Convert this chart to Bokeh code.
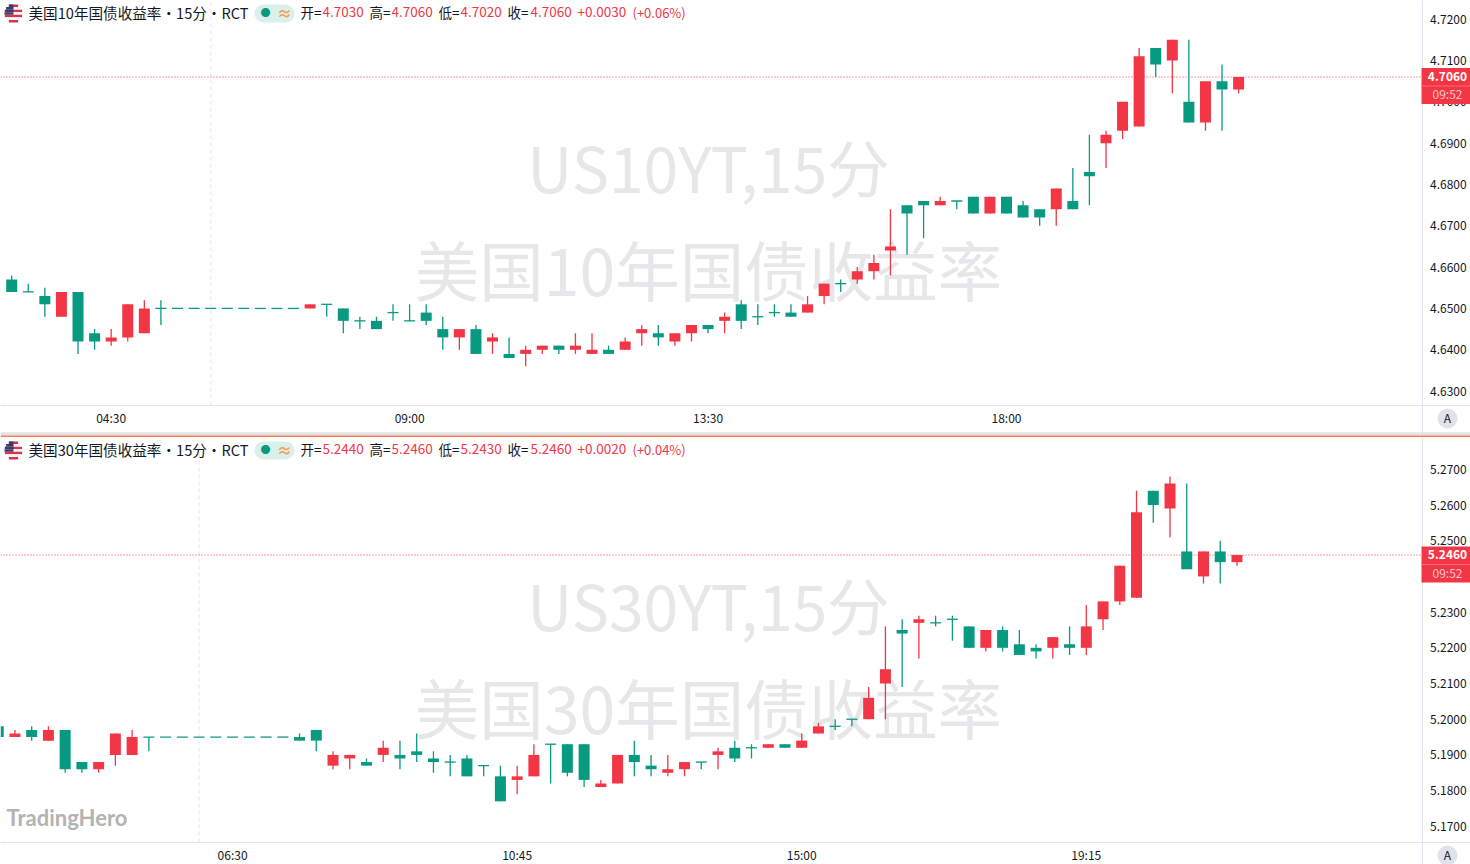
import math

from bokeh.embed import file_html
from bokeh.resources import INLINE
from bokeh.layouts import column
from bokeh.models import (BoxAnnotation, ColumnDataSource, FixedTicker, Label,
                          NumeralTickFormatter, Range1d, Span)
from bokeh.plotting import figure

GREEN = "#089981"
RED = "#F23645"
AXIS = "#e0e3eb"
INK = "#131722"
WM = "#e7e7ea"
CJK = "Noto Sans CJK SC"

OPEN_10 = [4.657,4.654,4.653,4.648,4.654,4.644,4.642,4.643,4.644,4.650,
           4.650,4.650,4.650,4.650,4.650,4.650,4.650,4.650,4.650,4.651,
           4.650,4.647,4.647,4.649,4.647,4.649,4.645,4.643,4.645,4.642,
           4.639,4.639,4.640,4.641,4.640,4.639,4.640,4.640,4.644,4.644,
           4.642,4.644,4.646,4.647,4.651,4.648,4.649,4.649,4.649,4.653,
           4.656,4.657,4.659,4.664,4.675,4.676,4.675,4.676,4.677,4.673,
           4.677,4.675,4.674,4.674,4.676,4.683,4.690,4.693,4.694,4.713,
           4.710,4.700,4.695,4.705,4.703]
HIGH_10 = [4.658,4.656,4.655,4.654,4.654,4.645,4.645,4.651,4.652,4.652,
           4.650,4.650,4.650,4.650,4.650,4.650,4.650,4.650,4.651,4.651,
           4.650,4.648,4.648,4.651,4.651,4.651,4.648,4.645,4.646,4.644,
           4.643,4.641,4.641,4.641,4.644,4.644,4.641,4.643,4.646,4.646,
           4.644,4.646,4.646,4.649,4.652,4.651,4.651,4.651,4.653,4.656,
           4.657,4.660,4.663,4.674,4.675,4.676,4.677,4.676,4.677,4.677,
           4.677,4.676,4.674,4.679,4.684,4.692,4.693,4.700,4.713,4.713,
           4.715,4.715,4.705,4.709,4.706]
LOW_10 = [4.654,4.654,4.648,4.648,4.639,4.640,4.641,4.642,4.644,4.646,
          4.650,4.650,4.650,4.650,4.650,4.650,4.650,4.650,4.650,4.648,
          4.644,4.645,4.645,4.647,4.647,4.646,4.640,4.640,4.639,4.639,
          4.638,4.636,4.639,4.639,4.639,4.639,4.639,4.640,4.641,4.641,
          4.641,4.642,4.644,4.644,4.645,4.646,4.648,4.648,4.649,4.651,
          4.654,4.656,4.657,4.658,4.663,4.667,4.675,4.674,4.673,4.673,
          4.673,4.672,4.670,4.670,4.674,4.675,4.684,4.691,4.694,4.706,
          4.702,4.695,4.693,4.693,4.702]
CLOSE_10 = [4.654,4.654,4.651,4.654,4.642,4.642,4.643,4.651,4.650,4.650,
            4.650,4.650,4.650,4.650,4.650,4.650,4.650,4.650,4.651,4.651,
            4.647,4.647,4.645,4.649,4.647,4.647,4.643,4.645,4.639,4.643,
            4.638,4.640,4.641,4.640,4.641,4.640,4.639,4.642,4.645,4.643,
            4.644,4.646,4.645,4.648,4.647,4.648,4.649,4.648,4.651,4.656,
            4.656,4.659,4.661,4.665,4.673,4.675,4.676,4.676,4.673,4.677,
            4.673,4.672,4.672,4.679,4.674,4.682,4.692,4.700,4.711,4.709,
            4.715,4.695,4.705,4.703,4.706]

OPEN_30 = [5.198,5.195,5.197,5.194,5.197,5.188,5.186,5.190,5.190,5.195,
           5.195,5.195,5.195,5.195,5.195,5.195,5.195,5.195,5.195,5.197,
           5.187,5.189,5.188,5.190,5.190,5.191,5.189,5.188,5.189,5.187,
           5.184,5.183,5.184,5.193,5.193,5.193,5.181,5.182,5.190,5.187,
           5.185,5.186,5.188,5.190,5.192,5.192,5.192,5.193,5.192,5.196,
           5.198,5.200,5.200,5.210,5.225,5.227,5.227,5.228,5.226,5.220,
           5.225,5.221,5.220,5.220,5.221,5.220,5.228,5.233,5.234,5.264,
           5.259,5.247,5.240,5.247,5.244]
HIGH_30 = [5.198,5.197,5.198,5.198,5.197,5.188,5.188,5.196,5.197,5.195,
           5.195,5.195,5.195,5.195,5.195,5.195,5.195,5.195,5.196,5.197,
           5.191,5.190,5.189,5.194,5.194,5.196,5.191,5.190,5.190,5.187,
           5.187,5.187,5.193,5.193,5.193,5.193,5.183,5.190,5.194,5.190,
           5.190,5.188,5.188,5.192,5.194,5.193,5.193,5.193,5.196,5.199,
           5.200,5.200,5.209,5.226,5.228,5.229,5.229,5.229,5.226,5.225,
           5.226,5.225,5.221,5.223,5.226,5.232,5.233,5.243,5.264,5.264,
           5.268,5.266,5.247,5.250,5.246]
LOW_30 = [5.195,5.195,5.194,5.194,5.185,5.185,5.185,5.187,5.190,5.191,
          5.195,5.195,5.195,5.195,5.195,5.195,5.195,5.195,5.194,5.191,
          5.186,5.186,5.187,5.188,5.186,5.188,5.185,5.184,5.184,5.184,
          5.177,5.179,5.184,5.182,5.184,5.181,5.181,5.182,5.184,5.184,
          5.184,5.184,5.186,5.186,5.188,5.189,5.192,5.192,5.192,5.196,
          5.197,5.198,5.200,5.200,5.209,5.217,5.226,5.222,5.220,5.219,
          5.219,5.218,5.217,5.217,5.218,5.218,5.225,5.232,5.234,5.255,
          5.251,5.242,5.238,5.238,5.243]
CLOSE_30 = [5.195,5.196,5.195,5.197,5.186,5.186,5.188,5.196,5.195,5.195,
            5.195,5.195,5.195,5.195,5.195,5.195,5.195,5.195,5.194,5.194,
            5.190,5.190,5.187,5.192,5.189,5.190,5.188,5.188,5.184,5.187,
            5.177,5.184,5.190,5.193,5.185,5.183,5.182,5.190,5.188,5.186,
            5.186,5.188,5.188,5.191,5.189,5.192,5.193,5.192,5.194,5.198,
            5.198,5.200,5.206,5.214,5.224,5.228,5.227,5.228,5.220,5.225,
            5.220,5.218,5.219,5.223,5.220,5.226,5.233,5.243,5.258,5.260,
            5.266,5.242,5.247,5.244,5.246]

TICKS_10 = [4.72,4.71,4.70,4.69,4.68,4.67,4.66,4.65,4.64,4.63]
TICKS_30 = [5.27,5.26,5.25,5.24,5.23,5.22,5.21,5.20,5.19,5.18,5.17]
TIME_10 = {6: "04:30", 24: "09:00", 42: "13:30", 60: "18:00"}
TIME_30 = {14: "06:30", 31: "10:45", 48: "15:00", 65: "19:15"}
SESSION_BAR = 12


def pane(op, hi, lo, cl, ticks, times, top_py, bottom_py, x0_px, bar_px, ref_price, ref_py,
         unit_px, strip_py, wm1, wm2, wm_py1, wm_py2, title, quote, change, countdown, tag_py, hy):
    # bar index / price <-> pixel of the page
    to_i = lambda px: (px - x0_px) / bar_px
    to_p = lambda py: ref_price + (ref_py - py) / unit_px
    sx = lambda x: x
    sy = lambda y: bottom_py - y
    p = figure(width=1470, height=bottom_py - top_py, output_backend="svg", toolbar_location=None,
               x_range=Range1d(to_i(0), to_i(1470)),
               y_range=Range1d(to_p(bottom_py), to_p(top_py)), y_axis_location="right",
               min_border_left=0, min_border_top=0, min_border_right=0, min_border_bottom=0,
               outline_line_color=None, background_fill_color="white",
               border_fill_color="white")
    p.grid.visible = False
    last = cl[-1]
    ax = p.yaxis[0]
    ax.fixed_location = to_i(1421.5)
    ax.ticker = FixedTicker(ticks=ticks)
    ax.formatter = NumeralTickFormatter(format="0.0000")
    ax.major_tick_line_color = None
    ax.major_tick_out = 0
    ax.major_tick_in = 0
    ax.minor_tick_line_color = None
    ax.axis_line_color = AXIS
    ax.major_label_text_font = CJK
    ax.major_label_text_font_size = "12px"
    ax.major_label_text_color = INK
    ax.major_label_standoff = 8
    bx = p.xaxis[0]
    bx.fixed_location = to_p(strip_py)
    bx.ticker = FixedTicker(ticks=list(times))
    bx.major_label_overrides = times
    bx.major_tick_line_color = None
    bx.major_tick_out = 0
    bx.major_tick_in = 0
    bx.minor_tick_line_color = None
    bx.axis_line_color = AXIS
    bx.major_label_text_font = CJK
    bx.major_label_text_font_size = "12px"
    bx.major_label_text_color = INK
    bx.major_label_standoff = 3

    # watermark under the candles
    for txt, py, size in ((wm1, wm_py1, "62.5px"), (wm2, wm_py2, "64.5px")):
        p.add_layout(Label(x=708, y=to_p(py), y_units="data", x_units="screen", text=txt,
                           text_font=CJK, text_font_size=size, text_color=WM,
                           text_align="center", text_baseline="middle", level="underlay"))

    p.segment([SESSION_BAR], [to_p(strip_py)], [SESSION_BAR], [to_p(top_py)], line_color="#eceef3",
              line_width=1.5, line_dash="4 3", level="underlay")
    p.add_layout(Span(location=last, dimension="width", line_color=RED,
                      line_width=1, line_dash="1 2", level="underlay"))

    idx = list(range(len(op)))
    colors = [RED if c > o else GREEN for o, c in zip(op, cl)]
    body = ColumnDataSource(dict(x=idx, o=op, h=hi, l=lo, c=cl, color=colors))
    p.segment("x", "l", "x", "h", source=body, line_color="color", line_width=1.3)
    w = 11 / bar_px
    p.vbar("x", width=w, top="o", bottom="c", source=body, fill_color="color",
           line_color=None)
    flat = [i for i in idx if op[i] == cl[i]]
    p.segment([i - w / 2 for i in flat], [op[i] for i in flat],
              [i + w / 2 for i in flat], [op[i] for i in flat],
              line_color=[colors[i] for i in flat], line_width=1.3)

    def text(x, s, color=INK, size="14px", align="left", weight="normal", py=hy - 1.5, font=CJK):
        p.add_layout(Label(x=sx(x), y=sy(py), x_units="screen", y_units="screen", text=s,
                           text_font=font, text_font_size=size, text_color=color,
                           text_align=align, text_baseline="middle",
                           text_font_style=weight, level="overlay"))

    def box(l, r, t, b, color, radius=0):
        p.add_layout(BoxAnnotation(left=sx(l), right=sx(r), top=sy(t), bottom=sy(b),
                                   left_units="screen", right_units="screen",
                                   top_units="screen", bottom_units="screen",
                                   fill_color=color, fill_alpha=1, line_color=None,
                                   border_radius=radius, level="overlay"))
    # round flag built of chords
    rows = 7
    for k in range(rows):
        d = -9 + (k + 0.5) * 18 / rows
        half = math.sqrt(max(81 - d * d, 0))
        c = "#d8344a" if k % 2 == 0 else "#f6f6f8"
        box(13 - half, 13 + half, hy + d - 18 / rows / 2, hy + d + 18 / rows / 2, c)
        if k < 4:
            box(13 - half, 13, hy + d - 18 / rows / 2, hy + d + 18 / rows / 2, "#3c3b6e")

    text(28, title, size="14.6px")
    box(254, 294, hy - 9, hy + 9, "#daf0ec", 9)
    text(265, "●", GREEN, "10px", "center")
    text(284, "≈", "#ff9850", "15px", "center", "bold")
    xs = [(300, 322), (369, 391), (438, 460), (507, 530)]
    for (lab, val), (x0, x1) in zip(quote, xs):
        text(x0, lab, size="13.5px")
        text(x1, val, RED, "13.5px")
    text(577, change[0], RED, "13.5px")
    text(632, change[1], RED, "13px")

    # price tag
    box(1421, 1470, tag_py, tag_py + 36, RED)
    box(1421, 1470, tag_py + 17.5, tag_py + 18.5, "#f66b78")
    text(1447, f"{last:.4f}", "white", "12px", "center", "bold", tag_py + 8)
    text(1447, countdown, "#fbc2c8", "12px", "center", "normal", py=tag_py + 25.5)
    # auto-scale button
    cy = strip_py + 13
    box(1437, 1457, cy - 10, cy + 10, AXIS, 10)
    text(1447, "A", INK, "12px", "center", py=cy - 1)
    return p, text, box


p1, _, box1 = pane(OPEN_10, HIGH_10, LOW_10, CLOSE_10, TICKS_10, TIME_10,
                   0, 437, 11.2, 16.58, 4.72, 18.64, 4133, 405,
                   "US10YT,15分", "美国10年国债收益率", 165, 267,
                   "美国10年国债收益率·15分·RCT",
                   [("开=", "4.7030"), ("高=", "4.7060"), ("低=", "4.7020"), ("收=", "4.7060")],
                   ("+0.0030", "(+0.06%)"), "09:52", 67.5, 13)
box1(0, 1470, 431.7, 435, AXIS)
box1(0, 1470, 435, 437, "#f57f45")
p2, text2, _ = pane(OPEN_30, HIGH_30, LOW_30, CLOSE_30, TICKS_30, TIME_30,
                    437, 864, -2.3, 16.74, 5.246, 554.5, 3570, 842,
                    "US30YT,15分", "美国30年国债收益率", 603, 705,
                    "美国30年国债收益率·15分·RCT",
                    [("开=", "5.2440"), ("高=", "5.2460"), ("低=", "5.2430"), ("收=", "5.2460")],
                    ("+0.0020", "(+0.04%)"), "09:52", 546, 450)
text2(6, "TradingHero", "#b3b3b3", "22px", "left", "bold", 817, "Lato")

open("out.html", "w").write(file_html(column(p1, p2, spacing=0), INLINE))
